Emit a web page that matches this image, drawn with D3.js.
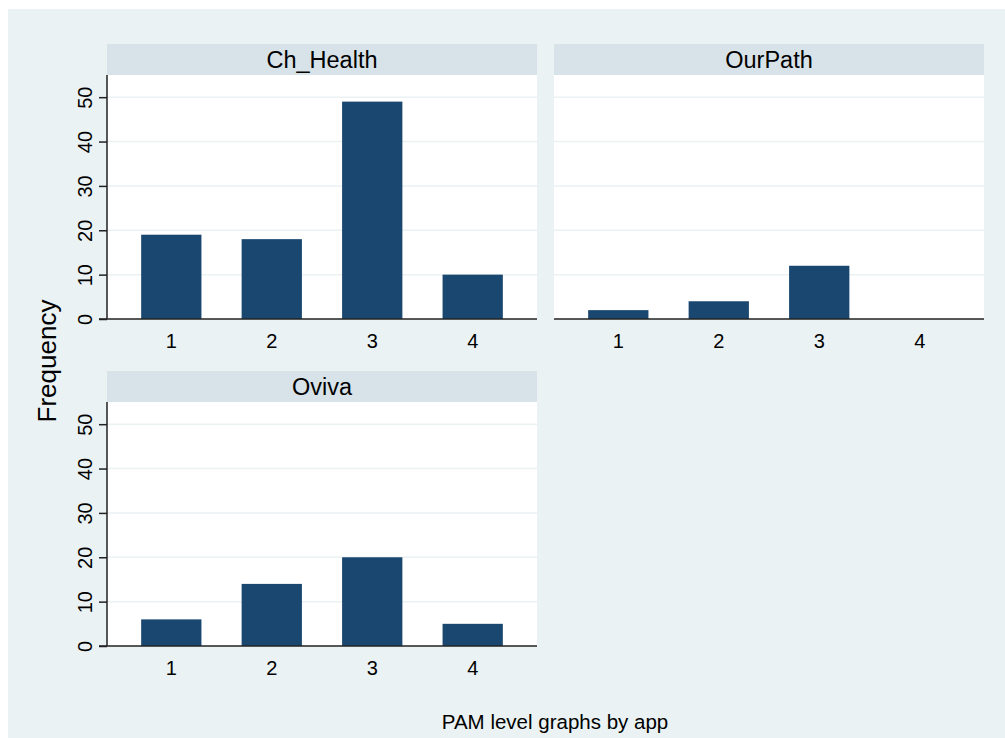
<!DOCTYPE html>
<html>
<head>
<meta charset="utf-8">
<script src="https://cdn.jsdelivr.net/npm/d3@7"></script>
<style>
  html, body { margin: 0; padding: 0; background: #ffffff; }
  svg { display: block; }
  text { font-family: "Liberation Sans", Arial, sans-serif; fill: #000; }
</style>
</head>
<body>
<svg id="chart" width="1005" height="738"></svg>
<script>
// PAM level frequencies, one series per app
const apps = ["Ch_Health", "OurPath", "Oviva"];
const pamLevels = ["1", "2", "3", "4"];
const chHealthFreq = [19, 18, 49, 10];
const ourPathFreq = [2, 4, 12, 0];
const ovivaFreq = [6, 14, 20, 5];
const yTicks = [0, 10, 20, 30, 40, 50];
const yTop = 55;
const axisTitle = "Frequency";
const byNote = "PAM level graphs by app";

const seriesByApp = [chHealthFreq, ourPathFreq, ovivaFreq];

const svg = d3.select("#chart");

// graph region
svg.append("rect")
  .attr("x", 8).attr("y", 9)
  .attr("width", 997).attr("height", 729)
  .attr("fill", "#eaf2f3");

// panel geometry: header band on top, plot area below
const panelW = 430, plotH = 244, headH = 31;
const panels = [
  { x: 107, y: 44, yAxis: true },
  { x: 554, y: 44, yAxis: false },
  { x: 107, y: 371, yAxis: true }
];

const barColor = "#1a476f";
const tickFont = 20;

panels.forEach((p, i) => {
  const g = svg.append("g");
  const top = p.y + headH;
  const bottom = top + plotH;

  // header band with app name
  g.append("rect")
    .attr("x", p.x).attr("y", p.y)
    .attr("width", panelW).attr("height", headH)
    .attr("fill", "#d7e3e9");
  g.append("text")
    .attr("x", p.x + panelW / 2).attr("y", p.y + headH / 2 + 8.5)
    .attr("text-anchor", "middle")
    .attr("font-size", 23.5)
    .text(apps[i]);

  // plot region
  g.append("rect")
    .attr("x", p.x).attr("y", top)
    .attr("width", panelW).attr("height", plotH)
    .attr("fill", "#ffffff");

  const x = d3.scaleBand()
    .domain(pamLevels)
    .range([p.x, p.x + panelW])
    .paddingInner(0.4)
    .paddingOuter(0.34);
  const y = d3.scaleLinear().domain([0, yTop]).range([bottom, top]);

  // horizontal grid lines
  g.selectAll("line.grid")
    .data(yTicks.filter(t => t > 0))
    .join("line")
    .attr("class", "grid")
    .attr("x1", p.x).attr("x2", p.x + panelW)
    .attr("y1", d => y(d)).attr("y2", d => y(d))
    .attr("stroke", "#eaf2f3")
    .attr("stroke-width", 1.5);

  // bars
  g.selectAll("rect.bar")
    .data(seriesByApp[i].map((v, k) => ({ level: pamLevels[k], value: v })))
    .join("rect")
    .attr("class", "bar")
    .attr("x", d => x(d.level))
    .attr("width", x.bandwidth())
    .attr("y", d => y(d.value))
    .attr("height", d => y(0) - y(d.value))
    .attr("fill", barColor);

  // category axis: baseline + labels, no ticks
  const xAxis = g.append("g")
    .attr("transform", `translate(0,${bottom})`)
    .call(d3.axisBottom(x).tickSize(0).tickPadding(15));
  xAxis.select(".domain").remove();
  xAxis.selectAll("text")
    .attr("font-size", tickFont)
    .attr("font-family", "Liberation Sans, Arial, sans-serif")
    .attr("fill", "#000")
    .attr("dy", "0.71em");

  g.append("line")
    .attr("x1", p.yAxis ? p.x - 8 : p.x).attr("x2", p.x + panelW)
    .attr("y1", bottom).attr("y2", bottom)
    .attr("stroke", "#222").attr("stroke-width", 1.5);

  if (p.yAxis) {
    const yAxis = g.append("g")
      .attr("transform", `translate(${p.x},0)`)
      .call(d3.axisLeft(y).tickValues(yTicks).tickSize(8).tickPadding(0));
    yAxis.select(".domain").remove();
    yAxis.selectAll(".tick line")
      .attr("stroke", "#222").attr("stroke-width", 1.5);
    yAxis.selectAll(".tick text")
      .attr("font-size", tickFont)
      .attr("font-family", "Liberation Sans, Arial, sans-serif")
      .attr("fill", "#000")
      .attr("text-anchor", "middle")
      .attr("dy", 0)
      .attr("x", 0)
      .attr("transform", "translate(-15,0) rotate(-90)");
    g.append("line")
      .attr("x1", p.x).attr("x2", p.x)
      .attr("y1", top).attr("y2", bottom)
      .attr("stroke", "#222").attr("stroke-width", 1.5);
  }
});

// shared y axis title
svg.append("text")
  .attr("transform", "translate(56,361) rotate(-90)")
  .attr("text-anchor", "middle")
  .attr("font-size", 26)
  .text(axisTitle);

// by-variable note
svg.append("text")
  .attr("x", 555).attr("y", 729)
  .attr("text-anchor", "middle")
  .attr("font-size", 20.5)
  .text(byNote);
</script>
</body>
</html>
